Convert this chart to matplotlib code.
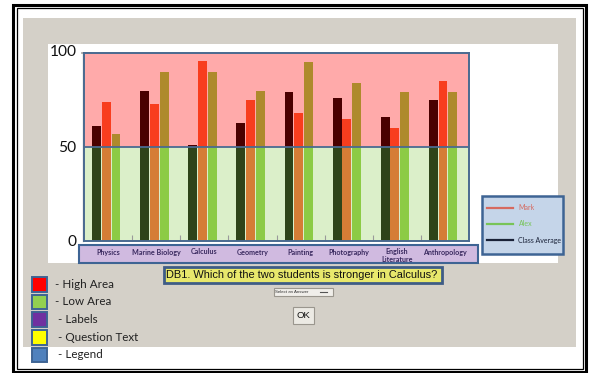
import matplotlib
matplotlib.use("Agg")
import matplotlib.pyplot as plt
from matplotlib.patches import Rectangle
import numpy as np

# ---- data ----
subjects = ["Physics", "Marine Biology", "Calculus", "Geometry", "Painting",
            "Photography", "English\nLiterature", "Anthropology"]
class_average = [61, 80, 51, 63, 79, 76, 66, 75]
mark = [74, 73, 96, 75, 68, 65, 60, 85]
alex = [57, 90, 90, 80, 95, 84, 79, 79]
y_ticks = [0, 50, 100]
question = "DB1. Which of the two students is stronger in Calculus?"
legend_names = ["Mark", "Alex", "Class Average"]
key_items = ["- High Area", "- Low Area", " - Labels", " - Question Text", " - Legend"]

W, H = 589, 373
fig = plt.figure(figsize=(W / 100, H / 100), dpi=100)
fig.patch.set_facecolor("white")

# full-figure canvas in pixel units (y downward)
ui = fig.add_axes([0, 0, 1, 1])
ui.set_xlim(0, W)
ui.set_ylim(H, 0)
ui.axis("off")


def box(x0, y0, x1, y1, fc, ec="none", lw=0, z=1):
    ui.add_patch(Rectangle((x0, y0), x1 - x0, y1 - y0, facecolor=fc,
                           edgecolor=ec, linewidth=lw, zorder=z))


# page frame
box(12.5, 4.5, 585.5, 372, "none", "black", 2.2, 5)
box(16.5, 8, 582.5, 368.5, "none", "black", 0.9, 5)

# grey panel and white chart card
box(23, 18, 576, 347, "#D4D0C8")
box(48, 44, 558, 263, "white", z=2)

# y tick labels
for v, yp in zip(y_ticks, [242, 148.5, 52.5]):
    ui.text(76.5, yp, str(v), ha="right", va="center", fontsize=11.2,
            family="Lato", color="#111111", zorder=3)

# ---- chart ----
L, R, T, B = 84, 469, 53, 241
ax = fig.add_axes([L / W, 1 - B / H, (R - L) / W, (B - T) / H], zorder=4)
ax.set_xlim(0, len(subjects))
ax.set_ylim(0, 100)
ax.axhspan(50, 100, color="#FFAAAA", zorder=0)
ax.axhspan(0, 50, color="#DBEFC9", zorder=0)

x = np.arange(len(subjects))
series = [
    (class_average, 0.26, "#2E4419", "#4A0000"),
    (mark, 0.46, "#D57D36", "#F83D1E"),
    (alex, 0.665, "#8CCB45", "#AE8A2C"),
]
bw = 0.185
for vals, off, low_c, high_c in series:
    vals = np.asarray(vals, dtype=float)
    ax.bar(x + off, np.minimum(vals, 50), width=bw, color=low_c, zorder=2)
    ax.bar(x + off, np.clip(vals - 50, 0, None), bottom=50, width=bw,
           color=high_c, zorder=2)

ax.axhline(50, color="#4A6A90", lw=1.3, zorder=3)
ax.set_xticks(np.arange(1, len(subjects)))
ax.set_xticklabels([])
ax.tick_params(axis="x", direction="in", length=4, color="#9A9A9A", width=0.8)
ax.set_yticks([])
for s in ax.spines.values():
    s.set_color("#4A6A90")
    s.set_linewidth(1.4)

# small grey tick at the top-left corner
ui.plot([82, 91], [53, 53], color="#9A9A9A", lw=1.2, zorder=3)
ui.plot([82.5, 82.5], [53, 241], color="#B0B0B0", lw=1.0, zorder=3)

# category label strip
box(79, 245, 478, 263, "#D0BAE0", "#3E6494", 1.5, 5)
cw = (R - L) / len(subjects)
for i, name in enumerate(subjects):
    cx = L + cw * (i + 0.5)
    cy = 255.5 if "\n" in name else 252
    ui.text(cx, cy, name, ha="center", va="center", fontsize=5.1,
            family="Lato", weight="bold", color="#3A2A60", linespacing=1.1,
            zorder=6)

# question banner
box(164, 267, 442, 283, "#E8E86C", "#3E5C86", 2.0, 5)
ui.text(302, 275.5, question, ha="center", va="center", fontsize=7.9,
        family="Liberation Sans", color="#111111", zorder=6)

# answer dropdown and OK button
box(274, 287.5, 332.5, 296, "#F0EEEA", "#9A968E", 0.8, 5)
ui.text(292, 291.8, "Select an Answer", ha="center", va="center",
        fontsize=3.2, family="Liberation Sans", color="#333333", zorder=6)
ui.plot([320, 327], [291.8, 291.8], color="#555555", lw=0.8, zorder=6)
box(292.5, 307, 314, 323.5, "#ECEAE4", "#9A968E", 0.8, 5)
ui.text(303.3, 315.5, "OK", ha="center", va="center", fontsize=6.8,
        family="Liberation Sans", color="#111111", zorder=6)

# series legend box
box(482, 196, 563, 254, "#C5D5E9", "#3E6494", 1.8, 5)
leg_colors = ["#D66A60", "#78C458", "#1A2238"]
for k, (nm, c) in enumerate(zip(legend_names, leg_colors)):
    yy = 207.7 + k * 16.2
    ui.plot([487, 513], [yy, yy], color=c, lw=1.6, zorder=6)
    ui.text(518.5, yy, nm, ha="left", va="center", fontsize=5.0,
            family="Lato", color=c, zorder=6)

# colour key
key_colors = ["#FF0000", "#92D050", "#7030A0", "#FFFF00", "#4F81BD"]
for k, (lab, c) in enumerate(zip(key_items, key_colors)):
    y0 = 277 + k * 17.7
    box(32, y0, 46.5, y0 + 14.5, c, "#3E6494", 1.4, 5)
    ui.text(55, y0 + 7.2, lab, ha="left", va="center", fontsize=8.4,
            family="Lato", color="#222222", zorder=6)

fig.savefig("out.png", dpi=100, facecolor="white")
